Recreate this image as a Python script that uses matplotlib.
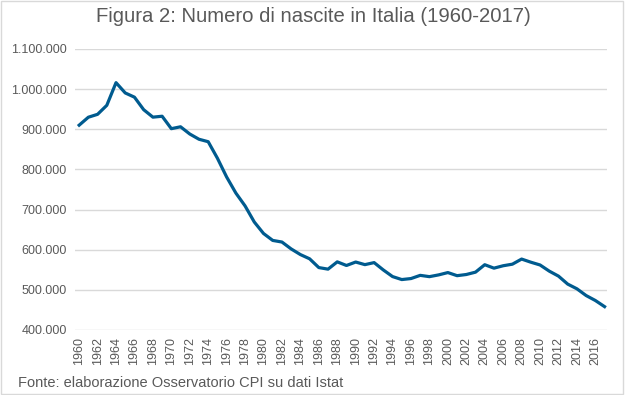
import matplotlib
matplotlib.use("Agg")
import matplotlib.pyplot as plt
from matplotlib.patches import Rectangle

years = list(range(1960, 2018))
births = [910192, 930021, 937257, 959668, 1016120, 990458, 979940, 948772, 930172, 932466,
          901472, 906182, 888203, 875131, 869000, 827852, 781092, 741103, 709043, 668976,
          640401, 623103, 619097, 601928, 587871, 577345, 555445, 551539, 569698, 560688,
          569255, 562787, 567841, 549484, 533050, 525609, 528103, 536081, 532843, 537242,
          543039, 535282, 538198, 544063, 562599, 554022, 560010, 563933, 576659, 568857,
          561944, 546607, 534186, 514308, 502596, 485780, 473438, 458151]
yticks = [400000, 500000, 600000, 700000, 800000, 900000, 1000000, 1100000]
title = "Figura 2: Numero di nascite in Italia (1960-2017)"
source = "Fonte: elaborazione Osservatorio CPI su dati Istat"

plt.rcParams['font.family'] = ['Liberation Sans', 'DejaVu Sans']
txt = '#595959'

fig = plt.figure(figsize=(6.25, 3.95), dpi=100)
ax = fig.add_axes([0.12, 0.1646, 0.851, 0.7114])

x = list(range(len(years)))
ax.plot(x, births, color='#005B8F', lw=2.3, solid_joinstyle='round', zorder=3)

ax.set_ylim(400000, 1100000)
ax.set_yticks(yticks)
ax.set_yticklabels([f"{v:,}".replace(",", ".") for v in yticks], color=txt, fontsize=9)
ax.set_xlim(-0.45, len(years) - 0.75)
ax.set_xticks(x[::2])
ax.set_xticklabels([str(y) for y in years[::2]], rotation=90, color=txt, fontsize=9)
ax.tick_params(axis='both', length=0, pad=6)
ax.tick_params(axis='x', pad=5)
ax.grid(axis='y', color='#D9D9D9', lw=1)
ax.set_axisbelow(True)
for s in ax.spines.values():
    s.set_visible(False)

fig.text(0.502, 0.957, title, ha='center', va='center', fontsize=14.6, color=txt)
fig.text(0.029, 0.03, source, ha='left', va='center', fontsize=10.5, color=txt)

fig.patches.append(Rectangle((0.002, 0.003), 0.995, 0.994, transform=fig.transFigure,
                             fill=False, edgecolor='#D9D9D9', lw=1))

fig.savefig("out.png", dpi=100)
